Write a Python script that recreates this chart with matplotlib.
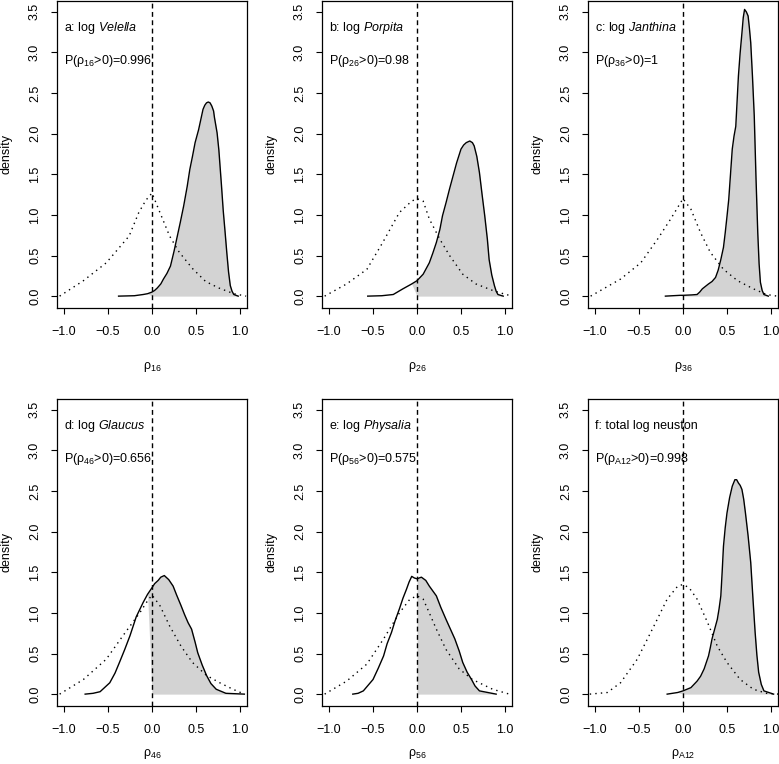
import matplotlib
matplotlib.use("Agg")
import matplotlib.pyplot as plt
import numpy as np

plt.rcParams['font.family'] = ['Liberation Sans', 'DejaVu Sans']
plt.rcParams['mathtext.fontset'] = 'custom'
plt.rcParams['mathtext.rm'] = 'Liberation Sans'
plt.rcParams['mathtext.it'] = 'Liberation Sans:italic'
plt.rcParams['mathtext.bf'] = 'Liberation Sans:bold'

# ---- data ----
titles = ["a: log $\\mathit{Velella}$", "b: log $\\mathit{Porpita}$", "c: log $\\mathit{Janthina}$",
          "d: log $\\mathit{Glaucus}$", "e: log $\\mathit{Physalia}$", "f: total log neuston"]
subscripts = ["16", "26", "36", "46", "56", "A12"]
probs = ["0.996", "0.98", "1", "0.656", "0.575", "0.998"]

# posterior densities (solid)
post_a_x = [-0.38, -0.20, -0.10, -0.05, 0.0, 0.03, 0.06, 0.10, 0.13, 0.17, 0.21, 0.25, 0.28, 0.32, 0.36, 0.40, 0.43, 0.46, 0.49, 0.53, 0.58, 0.60, 0.62, 0.64, 0.66, 0.68, 0.70, 0.71, 0.74, 0.76, 0.79, 0.81, 0.83, 0.85, 0.87, 0.89, 0.91, 0.93, 0.98]
post_a_y = [0.0, 0.005, 0.02, 0.03, 0.05, 0.07, 0.10, 0.15, 0.21, 0.28, 0.37, 0.55, 0.70, 0.90, 1.11, 1.35, 1.56, 1.72, 1.89, 2.05, 2.30, 2.35, 2.38, 2.39, 2.38, 2.34, 2.28, 2.20, 2.01, 1.80, 1.36, 1.05, 0.80, 0.54, 0.30, 0.13, 0.06, 0.02, 0.0]
post_b_x = [-0.56, -0.40, -0.27, -0.16, -0.06, 0.0, 0.07, 0.10, 0.14, 0.18, 0.22, 0.26, 0.29, 0.33, 0.37, 0.41, 0.45, 0.50, 0.53, 0.56, 0.60, 0.63, 0.65, 0.68, 0.71, 0.74, 0.77, 0.80, 0.82, 0.85, 0.88, 0.90, 0.92, 0.98]
post_b_y = [0.0, 0.005, 0.02, 0.09, 0.15, 0.19, 0.27, 0.33, 0.41, 0.53, 0.66, 0.82, 0.99, 1.15, 1.32, 1.48, 1.64, 1.81, 1.86, 1.89, 1.91, 1.89, 1.85, 1.72, 1.52, 1.25, 0.99, 0.70, 0.45, 0.26, 0.13, 0.06, 0.02, 0.0]
post_c_x = [-0.20, -0.03, 0.0, 0.10, 0.16, 0.19, 0.22, 0.29, 0.33, 0.37, 0.40, 0.43, 0.46, 0.48, 0.50, 0.52, 0.54, 0.56, 0.58, 0.60, 0.615, 0.63, 0.65, 0.67, 0.685, 0.70, 0.72, 0.74, 0.755, 0.77, 0.79, 0.81, 0.83, 0.85, 0.865, 0.88, 0.90, 0.92, 0.97]
post_c_y = [0.0, 0.01, 0.01, 0.015, 0.02, 0.05, 0.09, 0.15, 0.18, 0.23, 0.32, 0.45, 0.60, 0.78, 0.98, 1.19, 1.50, 1.81, 1.97, 2.09, 2.40, 2.71, 3.00, 3.24, 3.43, 3.53, 3.50, 3.45, 3.30, 3.12, 2.70, 2.22, 1.45, 0.78, 0.40, 0.17, 0.07, 0.02, 0.0]
post_d_x = [-0.76, -0.67, -0.59, -0.48, -0.42, -0.37, -0.31, -0.25, -0.18, -0.10, -0.05, 0.0, 0.03, 0.07, 0.10, 0.14, 0.19, 0.24, 0.28, 0.33, 0.37, 0.41, 0.45, 0.49, 0.52, 0.57, 0.62, 0.67, 0.73, 0.84, 1.05]
post_d_y = [0.0, 0.01, 0.03, 0.14, 0.26, 0.39, 0.55, 0.72, 0.95, 1.13, 1.23, 1.31, 1.36, 1.40, 1.44, 1.46, 1.41, 1.33, 1.22, 1.09, 0.98, 0.88, 0.80, 0.64, 0.51, 0.36, 0.23, 0.13, 0.06, 0.01, 0.0]
post_e_x = [-0.73, -0.67, -0.61, -0.50, -0.44, -0.38, -0.34, -0.29, -0.25, -0.20, -0.16, -0.12, -0.09, -0.06, -0.03, 0.0, 0.05, 0.10, 0.14, 0.18, 0.22, 0.27, 0.33, 0.38, 0.43, 0.48, 0.52, 0.57, 0.62, 0.66, 0.71, 0.90]
post_e_y = [0.0, 0.01, 0.04, 0.18, 0.32, 0.47, 0.62, 0.76, 0.90, 1.05, 1.18, 1.29, 1.38, 1.45, 1.43, 1.42, 1.44, 1.40, 1.33, 1.27, 1.21, 1.07, 0.92, 0.80, 0.68, 0.53, 0.39, 0.27, 0.18, 0.10, 0.04, 0.0]
post_f_x = [-0.18, -0.06, 0.0, 0.09, 0.16, 0.20, 0.24, 0.265, 0.29, 0.31, 0.33, 0.36, 0.39, 0.41, 0.43, 0.445, 0.46, 0.48, 0.50, 0.53, 0.56, 0.59, 0.61, 0.63, 0.65, 0.67, 0.69, 0.71, 0.74, 0.77, 0.795, 0.82, 0.84, 0.86, 0.89, 0.92, 1.03]
post_f_y = [0.0, 0.02, 0.04, 0.08, 0.16, 0.22, 0.31, 0.39, 0.47, 0.57, 0.68, 0.80, 0.92, 1.05, 1.21, 1.50, 1.82, 2.05, 2.23, 2.42, 2.56, 2.64, 2.64, 2.60, 2.57, 2.52, 2.40, 2.23, 1.95, 1.62, 1.18, 0.76, 0.48, 0.27, 0.12, 0.04, 0.0]

# prior densities (dotted)
prior_a_x = [-1.05, -0.78, -0.52, -0.26, -0.15, -0.07, 0.0, 0.09, 0.20, 0.31, 0.46, 0.61, 0.76, 0.93, 1.07]
prior_a_y = [0.0, 0.19, 0.41, 0.74, 1.03, 1.18, 1.27, 1.03, 0.74, 0.54, 0.34, 0.18, 0.10, 0.03, 0.0]
prior_b_x = [-1.05, -0.80, -0.57, -0.39, -0.20, -0.06, 0.0, 0.07, 0.14, 0.26, 0.37, 0.52, 0.67, 0.86, 1.01, 1.09]
prior_b_y = [0.0, 0.15, 0.33, 0.66, 1.03, 1.17, 1.20, 1.17, 0.95, 0.70, 0.50, 0.27, 0.15, 0.07, 0.02, 0.0]
prior_c_x = [-1.05, -0.71, -0.48, -0.29, -0.14, 0.0, 0.09, 0.20, 0.31, 0.46, 0.62, 0.80, 0.95, 1.07]
prior_c_y = [0.0, 0.21, 0.41, 0.70, 0.95, 1.20, 1.07, 0.78, 0.54, 0.33, 0.19, 0.09, 0.02, 0.0]
prior_d_x = [-1.05, -0.78, -0.52, -0.33, -0.14, -0.05, 0.0, 0.09, 0.20, 0.33, 0.46, 0.62, 0.77, 0.92, 1.05]
prior_d_y = [0.0, 0.18, 0.43, 0.72, 1.00, 1.15, 1.22, 1.09, 0.84, 0.59, 0.39, 0.23, 0.14, 0.06, 0.0]
prior_e_x = [-1.05, -0.80, -0.57, -0.38, -0.20, -0.08, 0.0, 0.07, 0.14, 0.22, 0.33, 0.48, 0.63, 0.86, 1.05]
prior_e_y = [0.0, 0.16, 0.37, 0.68, 1.00, 1.17, 1.21, 1.17, 1.00, 0.80, 0.55, 0.31, 0.18, 0.06, 0.0]
prior_f_x = [-1.06, -0.86, -0.71, -0.52, -0.33, -0.18, -0.06, 0.0, 0.07, 0.16, 0.28, 0.39, 0.50, 0.65, 0.80, 0.95, 1.09]
prior_f_y = [0.0, 0.02, 0.14, 0.43, 0.84, 1.17, 1.33, 1.35, 1.31, 1.17, 0.88, 0.59, 0.39, 0.18, 0.06, 0.01, 0.0]

posts = [(post_a_x, post_a_y), (post_b_x, post_b_y), (post_c_x, post_c_y),
         (post_d_x, post_d_y), (post_e_x, post_e_y), (post_f_x, post_f_y)]
priors = [(prior_a_x, prior_a_y), (prior_b_x, prior_b_y), (prior_c_x, prior_c_y),
          (prior_d_x, prior_d_y), (prior_e_x, prior_e_y), (prior_f_x, prior_f_y)]

x_ticks = [-1.0, -0.5, 0.0, 0.5, 1.0]
y_ticks = [0.0, 0.5, 1.0, 1.5, 2.0, 2.5, 3.0, 3.5]

W, H = 779, 764
fig = plt.figure(figsize=(W / 100, H / 100), dpi=100)

col_left = [57, 322, 588]
row_top = [0.5, 398.5]
row_labelpad = [16, 8]
ax_w, ax_h = 190, 307

FS = 9
for i in range(6):
    r, c = divmod(i, 3)
    l = col_left[c]
    t = row_top[r]
    ax = fig.add_axes([l / W, (H - t - ax_h) / H, ax_w / W, ax_h / H])
    px, py = np.array(posts[i][0]), np.array(posts[i][1])
    qx, qy = priors[i]
    ax.fill_between(px, py, 0, where=px >= 0, interpolate=True, color='#D3D3D3', lw=0, zorder=1)
    ax.plot(px, py, color='black', lw=1.0, zorder=3, solid_joinstyle='round')
    ax.plot(qx, qy, color='black', lw=1.0, linestyle=(0, (1, 3)), zorder=3)
    ax.axvline(0, color='black', lw=1.0, linestyle=(0, (3.5, 2.5)), zorder=4)
    ax.set_xlim(-1.08, 1.08)
    ax.set_ylim(-0.14, 3.64)
    ax.set_xticks(x_ticks)
    ax.set_yticks(y_ticks)
    ax.set_xticklabels([f"{v:.1f}".replace('-', '\u2212') for v in x_ticks], fontsize=FS)
    ax.set_yticklabels([f"{v:.1f}" for v in y_ticks], fontsize=FS, rotation=90, va='center')
    ax.tick_params(direction='out', length=4.5, width=0.8)
    ax.tick_params(axis='x', pad=9)
    ax.tick_params(axis='y', pad=7)
    for s in ax.spines.values():
        s.set_linewidth(0.9)
    ax.set_ylabel("density", fontsize=FS, labelpad=12)
    ax.set_xlabel("\u03c1$_{\\mathrm{%s}}$" % subscripts[i], fontsize=FS, labelpad=row_labelpad[r])
    ax.text(-1.0, 3.3, titles[i], fontsize=FS, ha='left', va='center', zorder=5)
    ax.text(-1.0, 2.9, "P(\u03c1$_{\\mathrm{%s}}$>0)=%s" % (subscripts[i], probs[i]),
            fontsize=FS, ha='left', va='center', zorder=5)

fig.savefig("out.png", dpi=100)
